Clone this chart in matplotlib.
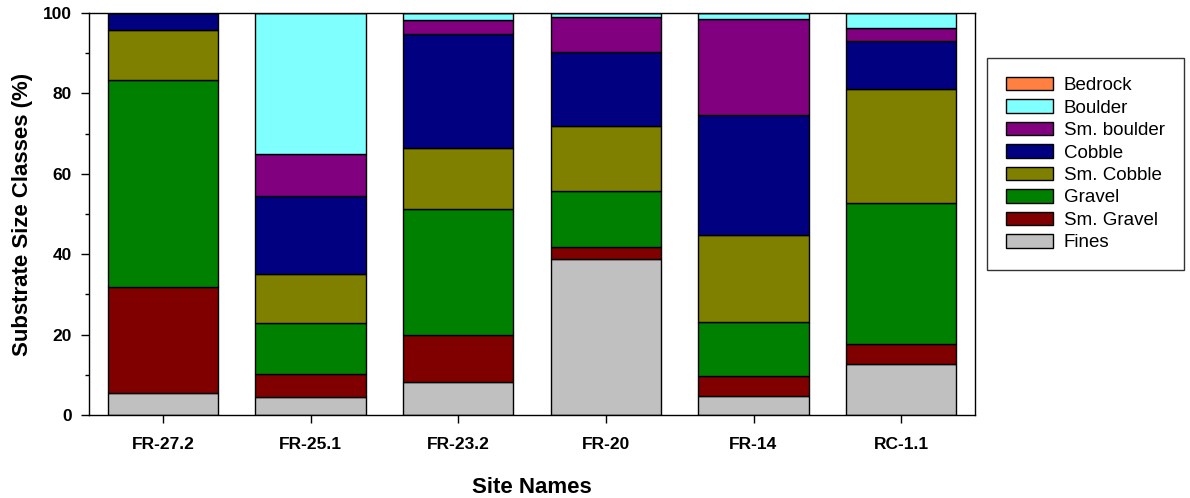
import numpy as np
import matplotlib.pyplot as plt
from matplotlib.ticker import MultipleLocator

plt.rcParams['font.family'] = ['Liberation Sans', 'DejaVu Sans']

sites = ['FR-27.2', 'FR-25.1', 'FR-23.2', 'FR-20', 'FR-14', 'RC-1.1']

# percent of each substrate class per site, bottom to top
fines = [5.5, 4.4, 8.2, 38.8, 4.7, 12.7]
sm_gravel = [26.4, 5.8, 11.8, 3.1, 5.1, 4.9]
gravel = [51.5, 12.6, 31.3, 13.7, 13.3, 35.1]
sm_cobble = [12.4, 12.2, 15.1, 16.4, 21.7, 28.4]
cobble = [4.2, 19.4, 28.5, 18.4, 29.9, 11.9]
sm_boulder = [0.0, 10.6, 3.4, 8.6, 23.8, 3.3]
boulder = [0.0, 35.0, 1.7, 1.0, 1.5, 3.7]
bedrock = [0.0, 0.0, 0.0, 0.0, 0.0, 0.0]

classes = ['Fines', 'Sm. Gravel', 'Gravel', 'Sm. Cobble', 'Cobble',
           'Sm. boulder', 'Boulder', 'Bedrock']
values = [fines, sm_gravel, gravel, sm_cobble, cobble, sm_boulder, boulder, bedrock]
colors = ['#C0C0C0', '#800000', '#008000', '#808000', '#000080',
          '#800080', '#80FFFF', '#FF8040']

fig = plt.figure(figsize=(11.9, 4.98), dpi=100)
ax = fig.add_axes([89 / 1190, 83 / 498, 886 / 1190, 402 / 498])

x = np.arange(len(sites))
bottom = np.zeros(len(sites))
handles = []
for name, vals, col in zip(classes, values, colors):
    vals = np.array(vals)
    h = ax.bar(x, vals, width=0.745, bottom=bottom, color=col,
               edgecolor='black', linewidth=1.0, label=name)
    handles.append(h)
    bottom += vals

ax.set_xlim(-0.5, 5.5)
ax.set_ylim(0, 100)
ax.set_xticks(x)
ax.set_xticklabels(sites, fontsize=12.5, fontweight='bold')
ax.yaxis.set_major_locator(MultipleLocator(20))
ax.yaxis.set_minor_locator(MultipleLocator(10))
for lbl in ax.get_yticklabels():
    lbl.set_fontweight('bold')
    lbl.set_fontsize(12.5)
ax.tick_params(axis='x', which='major', direction='out', length=5.5, width=1, pad=10.5)
ax.tick_params(axis='y', which='major', direction='out', length=5.5, width=1, pad=7)
ax.tick_params(axis='y', which='minor', direction='out', length=3, width=1)
for sp in ax.spines.values():
    sp.set_linewidth(1.0)

ax.set_ylabel('Substrate Size Classes (%)', fontsize=16, fontweight='bold')
ax.set_xlabel('Site Names', fontsize=16, fontweight='bold')
ax.yaxis.set_label_coords(-0.063, 0.5)
ax.xaxis.set_label_coords(0.5, -0.155)

leg = fig.legend(handles[::-1], classes[::-1], loc='upper left',
                 bbox_to_anchor=(987 / 1190, 1 - 58 / 498), borderaxespad=0,
                 fontsize=13.5, frameon=True, fancybox=False, edgecolor='black',
                 handlelength=2.5, handleheight=0.75, handletextpad=0.6,
                 labelspacing=0.27, borderpad=1.0)
leg.get_frame().set_linewidth(1.0)

fig.savefig('out.png', dpi=100)
